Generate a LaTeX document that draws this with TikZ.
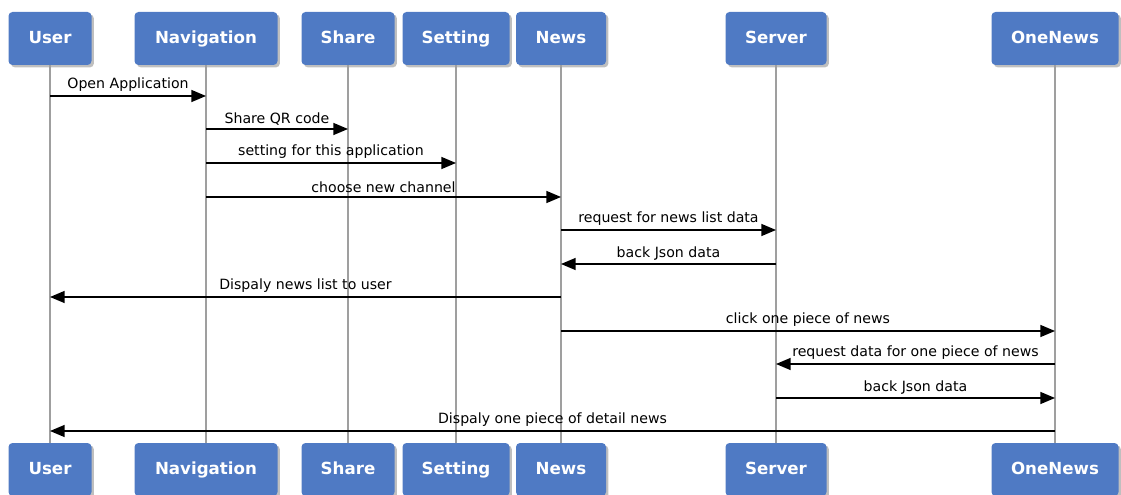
\documentclass[tikz,border=0pt]{standalone}
\usepackage{fontspec}
\setmainfont{DejaVu Sans}
\usetikzlibrary{arrows.meta,shadows}

\begin{document}
\begin{tikzpicture}[x=0.75pt,y=-0.75pt,>={Triangle[length=11pt,width=9pt]},
  actor/.style={fill=boxblue,rounded corners=3pt,text=white,
    font=\bfseries\fontsize{12.5}{14}\selectfont,minimum height=39.75pt,
    text height=9.5pt,text depth=2pt,
    drop shadow={shadow xshift=1.8pt,shadow yshift=-1.8pt,opacity=0.5}},
  life/.style={draw=gray!75,line width=0.9pt},
  msg/.style={->,line width=1.1pt},
  lbl/.style={font=\fontsize{10.6}{12}\selectfont,text=black,inner sep=2.5pt}]

\definecolor{boxblue}{RGB}{79,122,196}
\useasboundingbox (0,0) rectangle (1121,495);

% participants, top and bottom
\def\actor#1#2#3#4{
\node[actor,minimum width=#3] (#1)  at (#2,38.5)  {#4};
\node[actor,minimum width=#3] (#1b) at (#2,469.5) {#4};
\draw[life] (#1.south) -- (#1b.north);
}

\actor{user}{50}{62.25pt}{User}
\actor{nav}{206}{107.25pt}{Navigation}
\actor{share}{348}{69.75pt}{Share}
\actor{set}{456}{80.25pt}{Setting}
\actor{news}{561}{67.5pt}{News}
\actor{server}{776}{75.75pt}{Server}
\actor{one}{1055}{95.25pt}{OneNews}

% messages
\def\msg#1#2#3#4{
\draw[msg] (#1 |- 0,#3) -- node[above,lbl] {#4} (#2 |- 0,#3);
}

\msg{user}{nav}{96}{Open Application}
\msg{nav}{share}{129}{Share QR code}
\msg{nav}{set}{163}{setting for this application}
\msg{nav}{news}{197}{choose new channel}
\msg{news}{server}{230}{request for news list data}
\msg{server}{news}{264}{back Json data}
\msg{news}{user}{297}{Dispaly news list to user}
\msg{news}{one}{331}{click one piece of news}
\msg{one}{server}{364}{request data for one piece of news}
\msg{server}{one}{398}{back Json data}
\msg{one}{user}{431}{Dispaly one piece of detail news}

\end{tikzpicture}
\end{document}
